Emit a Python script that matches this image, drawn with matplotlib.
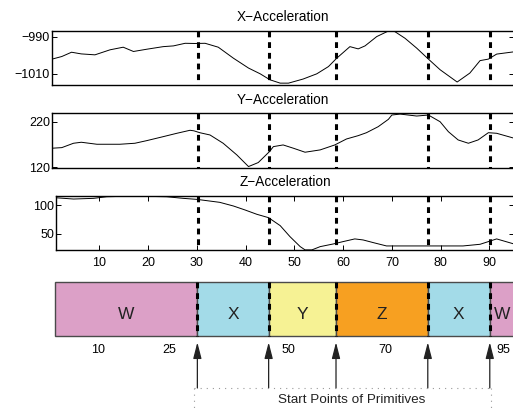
import matplotlib
matplotlib.use("Agg")
import matplotlib.pyplot as plt
from matplotlib.transforms import blended_transform_factory
from matplotlib.lines import Line2D

plt.rcParams['font.family'] = ['Liberation Sans', 'DejaVu Sans']

# ---------------- data ----------------
x_acc_t = [0.3, 2.3, 4.3, 6.3, 9.1, 12.2, 14.9, 17.0, 19.7, 23.1, 25.2, 27.6, 29.6, 31.7,
           34.4, 37.5, 40.6, 43.0, 45.0, 47.1, 48.8, 51.8, 54.6, 57.0, 58.7, 61.4, 63.1,
           64.5, 66.9, 69.3, 70.6, 72.7, 75.1, 77.3, 79.9, 83.4, 86.0, 88.1, 89.8, 91.5, 95.0]
x_acc_v = [-1002.1, -1000.7, -998.4, -999.3, -999.8, -997.1, -995.7, -998.0, -996.8, -995.4,
           -995.0, -993.6, -993.7, -993.6, -995.7, -1001.6, -1006.9, -1010.0, -1013.2,
           -1015.0, -1015.0, -1012.8, -1010.0, -1006.1, -1001.6, -995.4, -996.6, -995.0,
           -990.0, -987.0, -987.3, -990.9, -996.2, -1001.6, -1007.8, -1014.4, -1009.6,
           -1002.9, -1002.1, -999.4, -998.2]

y_acc_t = [0.3, 2.3, 4.7, 6.3, 9.5, 14.2, 17.3, 19.7, 23.1, 25.9, 28.6, 29.4, 30.6, 32.7,
           35.4, 38.2, 40.6, 42.6, 44.9, 45.7, 47.7, 49.8, 52.2, 55.3, 58.3, 60.7, 63.1,
           64.8, 67.2, 69.3, 70.0, 71.7, 75.1, 77.5, 79.9, 81.6, 83.6, 85.7, 87.7, 89.8,
           91.5, 95.0]
y_acc_v = [161.8, 163.1, 172.7, 174.9, 170.5, 170.5, 172.7, 178.4, 187.2, 194.6, 201.2,
           200.0, 195.9, 190.9, 172.7, 147.1, 121.5, 130.3, 154.4, 165.3, 169.0, 161.8,
           153.0, 158.1, 169.0, 182.1, 189.4, 195.9, 209.1, 225.3, 234.7, 236.8, 232.5,
           234.7, 220.0, 198.1, 180.0, 172.7, 180.0, 195.9, 194.6, 184.0]

z_acc_t = [1.1, 4.7, 8.8, 11.5, 17.0, 23.8, 27.2, 30.0, 34.7, 37.5, 39.9, 42.3, 44.7, 47.1,
           49.1, 51.2, 52.2, 53.6, 55.3, 58.0, 60.0, 62.4, 64.1, 66.2, 68.9, 71.7, 77.8,
           84.6, 88.1, 91.5, 95.0]
z_acc_v = [112.7, 110.5, 111.7, 114.5, 115.7, 114.5, 111.7, 109.9, 104.7, 98.3, 91.3, 83.8,
           77.9, 63.9, 44.7, 27.2, 21.5, 21.5, 27.2, 31.9, 36.0, 40.7, 38.9, 34.2, 28.4,
           28.4, 28.4, 28.4, 31.3, 40.7, 32.0]

segment_labels = ['W', 'X', 'Y', 'Z', 'X', 'W']
segment_starts = [1.1, 30.2, 44.8, 58.6, 77.4, 90.1]
segment_end = 100.0
segment_colors = {'W': '#DCA0C7', 'X': '#A3DBE8', 'Y': '#F6F294', 'Z': '#F7A021'}
boundaries = segment_starts[1:]

bar_tick_pos = [9.9, 24.5, 48.9, 68.8, 92.9]
bar_tick_labels = ['10', '25', '50', '70', '95']

titles = ['X\u2212Acceleration', 'Y\u2212Acceleration', 'Z\u2212Acceleration']
yticks = [[-1010, -990], [120, 220], [50, 100]]
ylims = [(-1016, -987), (119, 238.5), (21.3, 115.8)]
zticks = [10, 20, 30, 40, 50, 60, 70, 80, 90]
note_text = 'Start Points of Primitives'

# ---------------- layout ----------------
W, H = 513, 412
fig = plt.figure(figsize=(W / 100, H / 100), dpi=100)


def box(l, t, r, b):
    return [l / W, 1 - b / H, (r - l) / W, (b - t) / H]


R = 514
axX = fig.add_axes(box(52, 31, R, 85))
axY = fig.add_axes(box(52, 113.3, R, 167.7))
axZ = fig.add_axes(box(56, 196, R, 250))
axB = fig.add_axes(box(55.3, 281.7, R, 335.7))

xl_XY = (0.29, 95.06)
xl_Z = (1.1, 95.06)

series = [(x_acc_t, x_acc_v), (y_acc_t, y_acc_v), (z_acc_t, z_acc_v)]
for i, (ax, (t, v)) in enumerate(zip([axX, axY, axZ], series)):
    ax.plot(t, v, color='black', lw=0.7)
    ax.set_xlim(xl_Z if i == 2 else xl_XY)
    ax.set_ylim(*ylims[i])
    ax.set_yticks(yticks[i])
    ax.set_title(titles[i], fontsize=9.8, pad=7)
    ax.tick_params(axis='y', direction='in', length=3.5, width=0.7, labelsize=9,
                   pad=1.5, right=True)
    for s in ax.spines.values():
        s.set_linewidth(1.0)
    for b in boundaries:
        ax.plot([b, b], [1, 0], transform=ax.get_xaxis_transform(), color='black',
                lw=2.2, dashes=(1.9, 1.6), solid_capstyle='butt', dash_capstyle='butt',
                clip_on=False, zorder=3)
    if i < 2:
        ax.set_xticks([])
    else:
        ax.set_xticks(zticks)
        ax.tick_params(axis='x', direction='in', length=3.5, width=0.7, labelsize=9,
                       pad=5, top=True)

# ---------------- segment bar ----------------
axB.set_xlim(xl_Z)
axB.set_ylim(0, 1)
ends = segment_starts[1:] + [segment_end]
for lab, s, e in zip(segment_labels, segment_starts, ends):
    axB.barh(0.5, e - s, left=s, height=1.0, color=segment_colors[lab], edgecolor='#4a4a4a',
             linewidth=1.0, clip_on=False)
    cx = (s + min(e, xl_Z[1])) / 2
    axB.text(cx, 0.4, lab, ha='center', va='center', fontsize=12.5, color='#222222')
for b in boundaries:
    axB.plot([b, b], [1, 0], color='black', lw=2.2, dashes=(1.9, 1.6),
             solid_capstyle='butt', dash_capstyle='butt', clip_on=False, zorder=3)
for s in axB.spines.values():
    s.set_visible(False)
axB.set_yticks([])
axB.set_xticks(bar_tick_pos)
axB.set_xticklabels(bar_tick_labels)
axB.tick_params(axis='x', length=0, labelsize=9, pad=6)

# ---------------- arrows and note box ----------------
tr = blended_transform_factory(axB.transData, fig.transFigure)
y_tip = 1 - 342.3 / H
y_tail = 1 - 388 / H
for b in boundaries:
    axB.annotate('', xy=(b, y_tip), xytext=(b, y_tail),
                 xycoords=('data', 'figure fraction'), textcoords=('data', 'figure fraction'),
                 arrowprops=dict(arrowstyle='-|>,head_length=0.7,head_width=0.18',
                                 color='#222222', lw=0.9, shrinkA=0, shrinkB=0,
                                 mutation_scale=14),
                 annotation_clip=False)

bx0 = boundaries[0] - 0.6
bx1 = boundaries[-1] + 0.2
dot = dict(color='#9a9a9a', lw=0.8, dashes=(1, 4.5), transform=tr, clip_on=False)
fig.add_artist(Line2D([bx0, bx1], [y_tail, y_tail], **dot))
fig.add_artist(Line2D([bx0, bx0], [y_tail, 0], **dot))
fig.add_artist(Line2D([bx1, bx1], [y_tail, 0], **dot))
fig.text(352 / W, 1 - 400 / H, note_text, ha='center', va='center', fontsize=9.7,
         color='#222222')

fig.savefig('out.png', dpi=100)
